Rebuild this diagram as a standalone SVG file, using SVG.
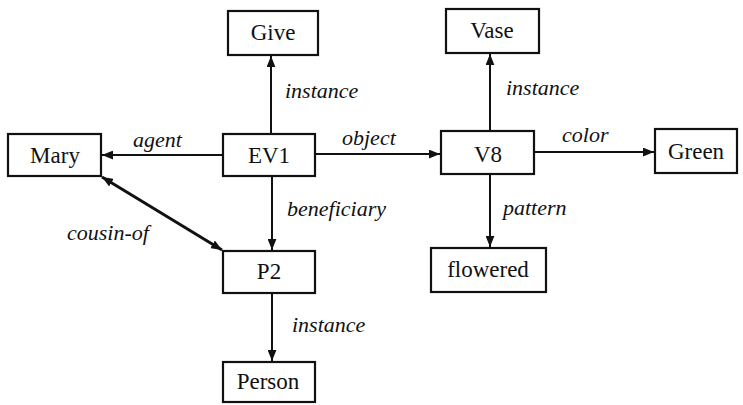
<svg xmlns="http://www.w3.org/2000/svg" width="743" height="405" viewBox="0 0 743 405">
  <style>
    .box { fill: #ffffff; stroke: #111; stroke-width: 2.2; }
    .name { font-family: "Liberation Serif", Tinos, Times, "DejaVu Serif", serif; font-size: 23px; fill: #111; text-anchor: middle; }
    .rel { font-family: "Liberation Serif", Tinos, Times, "DejaVu Serif", serif; font-size: 22px; font-style: italic; fill: #111; }
    .edge { fill: none; stroke: #111; stroke-width: 2; }
    .thick { stroke-width: 3; }
  </style>
  <defs>
    <marker id="head" viewBox="0 0 10 8" refX="10" refY="4" markerWidth="11" markerHeight="9" markerUnits="userSpaceOnUse" orient="auto-start-reverse">
      <path d="M0,0 L10,4 L0,8 Z" fill="#111"/>
    </marker>
  </defs>
  <rect width="743" height="405" fill="#ffffff"/>

  <g id="connectors">
    <line class="edge" x1="271" y1="134" x2="271" y2="56" marker-end="url(#head)"/>
    <line class="edge" x1="223" y1="155" x2="102" y2="155" marker-end="url(#head)"/>
    <line class="edge" x1="315" y1="154" x2="440" y2="154" marker-end="url(#head)"/>
    <line class="edge" x1="272" y1="176" x2="272" y2="250" marker-end="url(#head)"/>
    <line class="edge" x1="490" y1="131" x2="490" y2="54" marker-end="url(#head)"/>
    <line class="edge" x1="534" y1="152" x2="654" y2="152" marker-end="url(#head)"/>
    <line class="edge" x1="490" y1="174" x2="490" y2="247" marker-end="url(#head)"/>
    <line class="edge" x1="272" y1="293" x2="272" y2="361" marker-end="url(#head)"/>
    <line class="edge thick" x1="102" y1="177" x2="222" y2="250" marker-start="url(#head)" marker-end="url(#head)"/>

    <text class="rel" x="285" y="98">instance</text>
    <text class="rel" x="133" y="147">agent</text>
    <text class="rel" x="342" y="145">object</text>
    <text class="rel" x="287" y="216">beneficiary</text>
    <text class="rel" x="67" y="240">cousin-of</text>
    <text class="rel" x="292" y="332">instance</text>
    <text class="rel" x="506" y="95">instance</text>
    <text class="rel" x="562" y="142">color</text>
    <text class="rel" x="503" y="215">pattern</text>
  </g>

  <g id="give"><rect class="box" x="228" y="11" width="90" height="44"/><text class="name" x="273" y="40">Give</text></g>
  <g id="mary"><rect class="box" x="8" y="134" width="93" height="42"/><text class="name" x="55" y="163">Mary</text></g>
  <g id="ev1"><rect class="box" x="223" y="134" width="92" height="42"/><text class="name" x="269" y="163">EV1</text></g>
  <g id="p2"><rect class="box" x="223" y="251" width="92" height="42"/><text class="name" x="269" y="279">P2</text></g>
  <g id="person"><rect class="box" x="223" y="362" width="92" height="40"/><text class="name" x="268" y="389">Person</text></g>
  <g id="vase"><rect class="box" x="446" y="9" width="93" height="44"/><text class="name" x="492" y="38">Vase</text></g>
  <g id="v8"><rect class="box" x="441" y="131" width="93" height="43"/><text class="name" x="488" y="162">V8</text></g>
  <g id="green"><rect class="box" x="655" y="129" width="82" height="44"/><text class="name" x="696" y="159">Green</text></g>
  <g id="flowered"><rect class="box" x="431" y="248" width="115" height="44"/><text class="name" x="488" y="277">flowered</text></g>
</svg>
